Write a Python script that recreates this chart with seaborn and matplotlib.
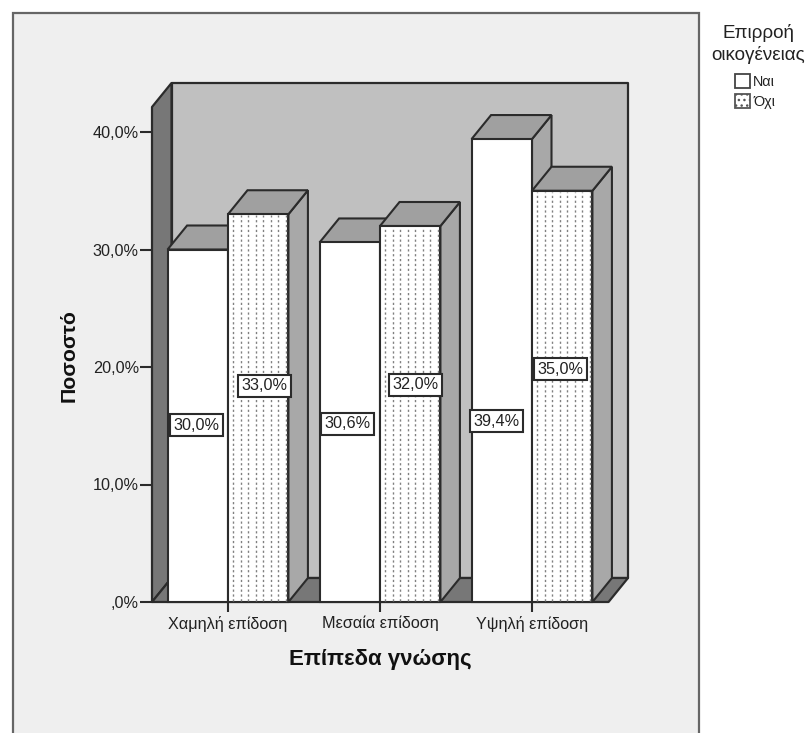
import matplotlib
matplotlib.use("Agg")
import matplotlib.pyplot as plt
from matplotlib.patches import Patch, Polygon, Rectangle
from matplotlib.ticker import FixedFormatter, FixedLocator
import numpy as np
import pandas as pd
import seaborn as sns

# Survey percentages by knowledge level and family influence
levels = ["Χαμηλή επίδοση", "Μεσαία επίδοση", "Υψηλή επίδοση"]
influence = ["Ναι", "Όχι"]
yes_values = [30.0, 30.6, 39.4]
no_values = [33.0, 32.0, 35.0]
y_ticks = [0, 10, 20, 30, 40]
y_tick_labels = [",0%", "10,0%", "20,0%", "30,0%", "40,0%"]

W, H = 805, 733
AX_L, AX_R, AX_T, AX_B = 152, 628, 83, 602
PX_PER_PCT = 11.75
PX_PER_CAT = 152.0
DEPTH_X_PX, DEPTH_Y_PX = 19.5, 24.0
LINE = "#2b2b2b"

sns.set_theme(style="white")
plt.rcParams["font.family"] = ["Liberation Sans", "DejaVu Sans"]

df = pd.DataFrame({
    "level": levels * 2,
    "influence": [influence[0]] * 3 + [influence[1]] * 3,
    "pct": yes_values + no_values,
})

fig = plt.figure(figsize=(W / 100, H / 100), dpi=100, facecolor="white")
fig.add_artist(Rectangle((13 / W, -0.05), (699 - 13) / W, 1.05 - 13 / H,
                         transform=fig.transFigure, facecolor="#efefef",
                         edgecolor="#666666", linewidth=1.6, zorder=-5))

ax = fig.add_axes([AX_L / W, 1 - AX_B / H, (AX_R - AX_L) / W, (AX_B - AX_T) / H])
ax.patch.set_visible(False)
sns.despine(ax=ax, left=True, bottom=True, top=True, right=True)

sns.barplot(data=df, x="level", y="pct", hue="influence", order=levels,
            hue_order=influence, palette=["white", "white"], width=0.795, gap=0,
            saturation=1, edgecolor=LINE, linewidth=1.5, legend=False,
            err_kws={"linewidth": 0}, ax=ax)

x_min = (AX_L - 228) / PX_PER_CAT
x_max = (AX_R - 228) / PX_PER_CAT
ax.set_xlim(x_min, x_max)
ax.set_ylim(0, (AX_B - AX_T) / PX_PER_PCT)
dx = DEPTH_X_PX / PX_PER_CAT
dy = DEPTH_Y_PX / PX_PER_PCT
y_top = ax.get_ylim()[1]
x_front_right = x_max - dx

bars = sorted([p for p in ax.patches if p.get_height() > 0], key=lambda p: p.get_x())

# Chart box: back wall, left wall and floor
wall_style = dict(edgecolor=LINE, linewidth=1.6, clip_on=False, joinstyle="round")
ax.add_patch(Polygon([(x_min + dx, dy), (x_max, dy), (x_max, y_top), (x_min + dx, y_top)],
                     facecolor="#c0c0c0", zorder=0.5, **wall_style))
ax.add_patch(Polygon([(x_min, 0), (x_min + dx, dy), (x_min + dx, y_top), (x_min, y_top - dy)],
                     facecolor="#777777", zorder=0.6, **wall_style))
ax.add_patch(Polygon([(x_min, 0), (x_front_right, 0), (x_max, dy), (x_min + dx, dy)],
                     facecolor="#777777", zorder=0.6, **wall_style))

# Extrude each bar and dot the second series
for i, bar in enumerate(bars):
    x0, w, h = bar.get_x(), bar.get_width(), bar.get_height()
    z = 2 + i
    bar.set_zorder(z + 0.2)
    bar.set_clip_on(False)
    ax.add_patch(Polygon([(x0 + w, 0), (x0 + w + dx, dy), (x0 + w + dx, h + dy), (x0 + w, h)],
                         facecolor="#a8a8a8", zorder=z, edgecolor=LINE, linewidth=1.5))
    ax.add_patch(Polygon([(x0, h), (x0 + dx, h + dy), (x0 + w + dx, h + dy), (x0 + w, h)],
                         facecolor="#a0a0a0", zorder=z + 0.1, edgecolor=LINE, linewidth=1.5))
    if i % 2 == 1:
        columns = np.arange(x0 + 5 / PX_PER_CAT, x0 + w - 1 / PX_PER_CAT, 7.5 / PX_PER_CAT)
        ax.vlines(columns, 0.1, h - 0.1, colors="#808080", linewidth=1.0,
                  linestyles=(0, (1.6, 1.9)), zorder=z + 0.3)

# Value labels in white boxes
label_values = [yes_values[0], no_values[0], yes_values[1], no_values[1], yes_values[2], no_values[2]]
label_heights = [15.05, 18.4, 15.15, 18.5, 15.4, 19.8]
label_shift_px = [-1, 6.5, -2, 5.5, -5, -2]
for bar, value, height, shift in zip(bars, label_values, label_heights, label_shift_px):
    ax.text(bar.get_x() + bar.get_width() / 2 + shift / PX_PER_CAT, height,
            f"{value:.1f}%".replace(".", ","), ha="center", va="center",
            fontsize=11.7, color="#222222", zorder=30,
            bbox=dict(boxstyle="square,pad=0.22", facecolor="white",
                      edgecolor=LINE, linewidth=1.5))

# Axes furniture
ax.set_axisbelow(False)
ax.yaxis.set_major_locator(FixedLocator(y_ticks))
ax.yaxis.set_major_formatter(FixedFormatter(y_tick_labels))
ax.set_xticks(range(3))
ax.set_xticklabels(levels)
ax.tick_params(axis="y", left=True, length=8.5, width=1.5, color=LINE, labelsize=11.7,
               labelcolor="#222222", pad=1)
ax.tick_params(axis="x", bottom=True, length=7.5, width=1.5, color=LINE, labelsize=11.7,
               labelcolor="#222222", pad=2.5)
ax.set_xlabel("")
ax.set_ylabel("")
fig.text(380 / W, 1 - 659 / H, "Επίπεδα γνώσης", ha="center", va="center",
         fontsize=16, fontweight="bold", color="#111111")
fig.text(69 / W, 1 - 356 / H, "Ποσοστό", ha="center", va="center", rotation=90,
         fontsize=15.3, fontweight="bold", color="#111111")

# Legend
fig.text(758 / W, 1 - 33 / H, "Επιρροή", ha="center", va="center", fontsize=13.6, color="#222222")
fig.text(758 / W, 1 - 55 / H, "οικογένειας", ha="center", va="center", fontsize=13.6, color="#222222")
handles = [Patch(facecolor="white", edgecolor="#444444", linewidth=1.3),
           Patch(facecolor="white", edgecolor="#555555", linewidth=1.3, hatch="...")]
fig.legend(handles, influence, loc="upper left", bbox_to_anchor=(733 / W, 1 - 72 / H),
           frameon=False, fontsize=10.4, handlelength=1.05, handleheight=1.05,
           handletextpad=0.2, labelspacing=0.38, borderpad=0.15, borderaxespad=0,
           labelcolor="#222222")

fig.savefig("out.png", dpi=100, facecolor="white")
